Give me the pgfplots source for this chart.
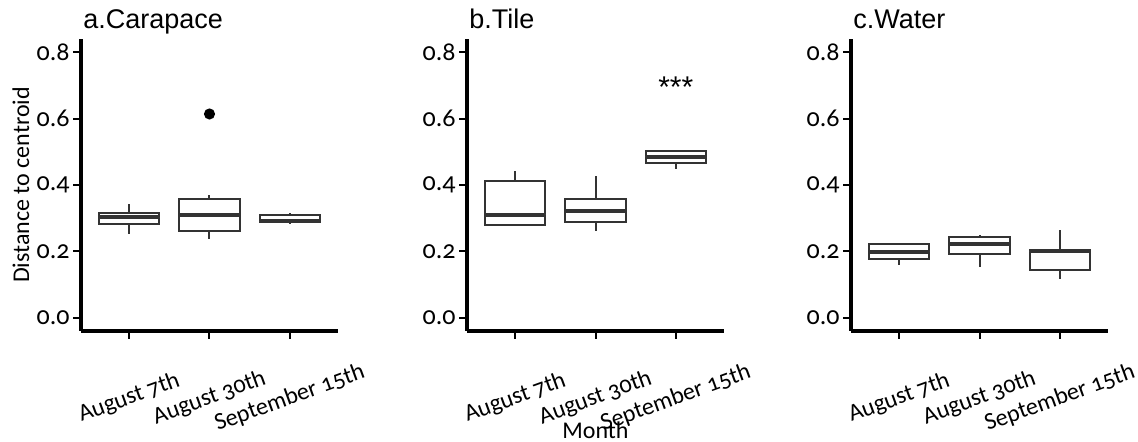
\documentclass[border=0pt]{standalone}
\usepackage{pgfplots}
\pgfplotsset{compat=1.18}
\usepgfplotslibrary{statistics}
\usepackage{fontspec}
\setmainfont{Carlito}[Numbers=OldStyle]
\newfontfamily\titlefont{Liberation Sans}

\definecolor{boxline}{HTML}{333333}

\pgfplotsset{
  panel/.style={
    scale only axis,
    width=128.5pt, height=146pt,
    xmin=0.4, xmax=3.6,
    ymin=-0.04, ymax=0.84,
    axis x line=bottom, axis y line=left,
    axis line style={-, line width=2pt, black},
    xtick={1,2,3},
    xticklabels={August 7th, August 30th, September 15th},
    ytick={0,0.2,0.4,0.6,0.8},
    tick align=outside,
    major tick length=4pt,
    every tick/.style={black, line width=1pt},
    tick label style={text=black},
    yticklabel style={font=\fontsize{13}{15}\selectfont, inner sep=1.5pt,
      /pgf/number format/.cd, fixed, fixed zerofill, precision=1, assume math mode=true},
    xticklabel style={font=\fontsize{12}{14}\selectfont, rotate=20, anchor=center},
    xticklabel shift=29.5pt,
    every axis title/.style={at={(rel axis cs:0,1)}, anchor=base west, inner sep=0pt,
                 xshift=1pt, yshift=5pt, font=\titlefont\fontsize{13.5}{15}\selectfont},
    label style={font=\fontsize{12}{14}\selectfont},
    clip=false,
    boxplot/draw direction=y,
    boxplot/every median/.style={line width=2pt},
    boxplot/every whisker/.style={line width=1pt},
    boxplot/every box/.style={line width=1pt},
  },
  bx/.style={
    draw=boxline, fill=white, line width=1pt, solid,
    mark=*, mark size=2.25pt, mark options={fill=black, draw=black},
  },
}

\begin{document}
\begin{tikzpicture}
\useasboundingbox (0,0) rectangle (569pt,221pt);

% a. Carapace
\begin{axis}[panel, at={(40.5pt,55.5pt)}, anchor=south west,
  title={a.Carapace},
  ylabel={Distance to centroid},
  ylabel style={at={(axis description cs:-0.2335,0.5)}, anchor=center}]
\addplot[bx, boxplot prepared={draw position=1, lower whisker=0.251, lower quartile=0.281,
  median=0.303, upper quartile=0.316, upper whisker=0.342, box extend=0.75, whisker extend=0}]
  coordinates {};
\addplot[bx, boxplot prepared={draw position=2, lower whisker=0.237, lower quartile=0.261,
  median=0.311, upper quartile=0.359, upper whisker=0.371, box extend=0.75, whisker extend=0}]
  table[row sep=\\, y index=0] {0.614\\};
\addplot[bx, boxplot prepared={draw position=3, lower whisker=0.281, lower quartile=0.287,
  median=0.291, upper quartile=0.309, upper whisker=0.316, box extend=0.75, whisker extend=0}]
  coordinates {};
\end{axis}

% b. Tile
\begin{axis}[panel, at={(233.5pt,55.5pt)}, anchor=south west,
  title={b.Tile},
  xlabel={Month},
  xlabel style={at={(axis description cs:0.5,-0.339)}, anchor=center}]
\addplot[bx, boxplot prepared={draw position=1, lower whisker=0.279, lower quartile=0.279,
  median=0.311, upper quartile=0.413, upper whisker=0.441, box extend=0.75, whisker extend=0}]
  coordinates {};
\addplot[bx, boxplot prepared={draw position=2, lower whisker=0.261, lower quartile=0.287,
  median=0.322, upper quartile=0.359, upper whisker=0.427, box extend=0.75, whisker extend=0}]
  coordinates {};
\addplot[bx, boxplot prepared={draw position=3, lower whisker=0.449, lower quartile=0.465,
  median=0.485, upper quartile=0.503, upper whisker=0.503, box extend=0.75, whisker extend=0}]
  coordinates {};
\node[anchor=north, inner sep=0pt, font=\titlefont\fontsize{15}{17}\selectfont] at (axis cs:3,0.728) {***};
\end{axis}

% c. Water
\begin{axis}[panel, at={(425.5pt,55.5pt)}, anchor=south west,
  title={c.Water}]
\addplot[bx, boxplot prepared={draw position=1, lower whisker=0.159, lower quartile=0.176,
  median=0.199, upper quartile=0.222, upper whisker=0.226, box extend=0.75, whisker extend=0}]
  coordinates {};
\addplot[bx, boxplot prepared={draw position=2, lower whisker=0.153, lower quartile=0.192,
  median=0.221, upper quartile=0.242, upper whisker=0.248, box extend=0.75, whisker extend=0}]
  coordinates {};
\addplot[bx, boxplot prepared={draw position=3, lower whisker=0.117, lower quartile=0.143,
  median=0.201, upper quartile=0.204, upper whisker=0.264, box extend=0.75, whisker extend=0}]
  coordinates {};
\end{axis}
\end{tikzpicture}
\end{document}
